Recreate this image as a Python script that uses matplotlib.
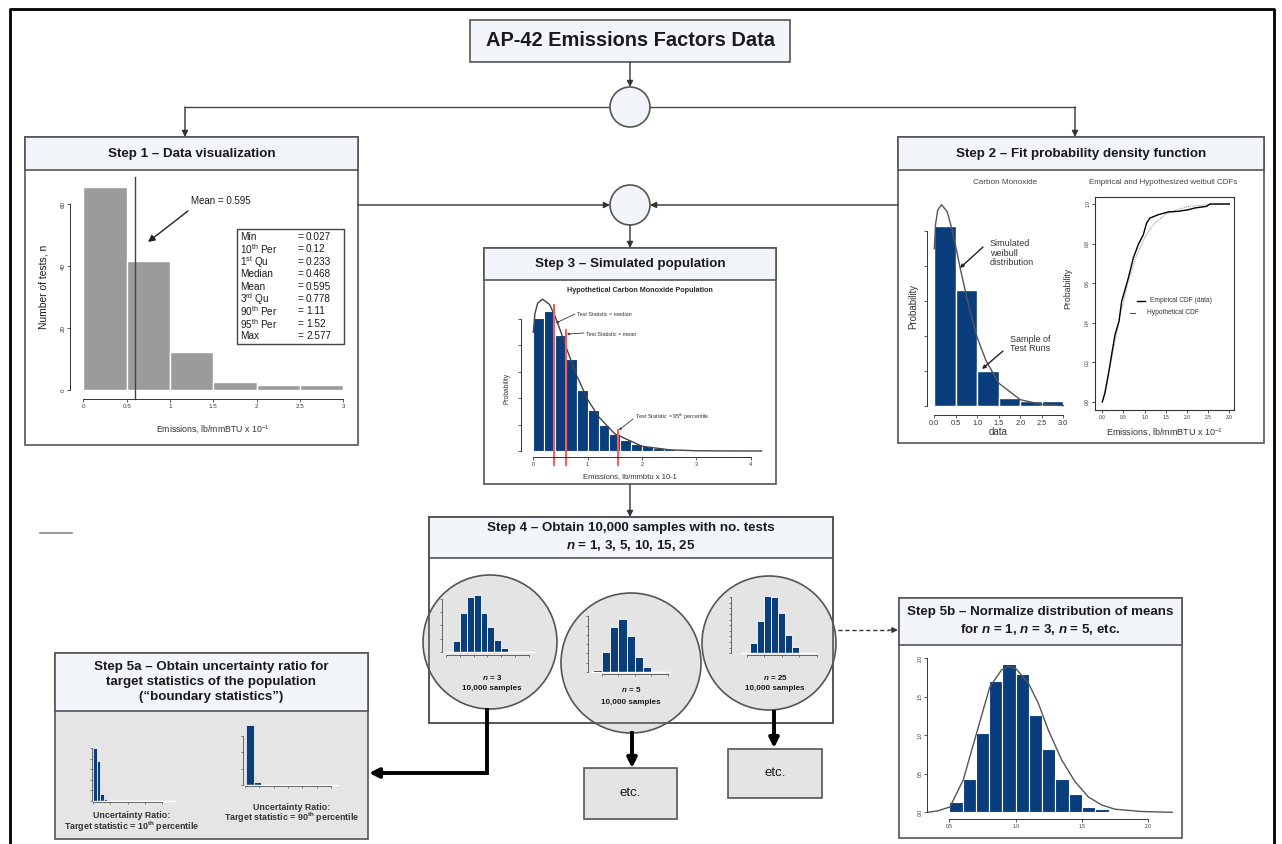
import numpy as np
import matplotlib
matplotlib.use('Agg')
import matplotlib.pyplot as plt
from matplotlib.patches import Rectangle, Circle

plt.rcParams['font.family'] = ['Liberation Sans', 'DejaVu Sans']
plt.rcParams['mathtext.fontset'] = 'custom'
plt.rcParams['mathtext.rm'] = 'Liberation Sans'
plt.rcParams['mathtext.it'] = 'Liberation Sans:italic:bold'
plt.rcParams['mathtext.bf'] = 'Liberation Sans:bold'
plt.rcParams['mathtext.default'] = 'regular'

# ---- data ----
# Step 1: histogram of test runs
s1_left = [0, 0.5, 1.0, 1.5, 2.0, 2.5]
s1_counts = [65.5, 41.5, 12.3, 2.7, 1.6, 1.6]
s1_mean = 0.595
stat_names = ['Min', '10$^{th}$ Per', '1$^{st}$ Qu', 'Median', 'Mean',
              '3$^{rd}$ Qu', '90$^{th}$ Per', '95$^{th}$ Per', 'Max']
stat_vals = ['0.027', '0.12', '0.233', '0.468', '0.595', '0.778', '1.11', '1.52', '2.577']

# Step 2: density histogram + fitted weibull, CDFs
s2_left = [0, 0.5, 1.0, 1.5, 2.0, 2.5]
s2_dens = [1.03, 0.66, 0.20, 0.046, 0.03, 0.03]
pdf_x = [0.0, 0.03, 0.08, 0.17, 0.3, 0.4, 0.5, 0.6, 0.8, 1.0, 1.2, 1.5, 2.0, 2.5, 3.0, 3.5, 4.2]
pdf_y = [0.9, 1.04, 1.12, 1.15, 1.11, 1.02, 0.91, 0.79, 0.57, 0.39, 0.26, 0.13, 0.036, 0.009, 0.002, 0.0005, 0.0]
ecdf_x = [0, 0.063, 0.142, 0.22, 0.30, 0.394, 0.457, 0.614, 0.732, 0.85, 0.969, 1.047,
          1.126, 1.323, 1.559, 1.795, 2.03, 2.19, 2.46, 2.54, 3.0]
ecdf_y = [0, 0.045, 0.138, 0.239, 0.34, 0.407, 0.508, 0.626, 0.727, 0.795, 0.845, 0.904,
          0.929, 0.946, 0.96, 0.963, 0.971, 0.98, 0.988, 1.0, 1.0]
hyp_x = [0, 0.2, 0.4, 0.6, 0.8, 1.0, 1.2, 1.5, 2.0, 2.5, 3.0]
hyp_y = [0, 0.196, 0.415, 0.598, 0.734, 0.829, 0.894, 0.95, 0.987, 0.997, 0.999]

# Step 3: simulated population
s3_dens = [1.01, 1.06, 0.88, 0.70, 0.46, 0.31, 0.20, 0.13, 0.086, 0.056, 0.035, 0.02, 0.013, 0.008, 0.005]
s3_stat_x = [0.38, 0.61, 1.55]
s3_stat_top = [1.106, 0.916, 0.157]

# Step 4: sample-mean histograms
n3_heights = [0.83, 2.9, 4.1, 4.25, 2.95, 1.9, 0.93, 0.3, 0.05]
n5_heights = [0.18, 2.18, 4.9, 5.7, 3.9, 1.56, 0.47, 0.11]
n25_heights = [0.3, 3.0, 9.8, 17.5, 17.0, 12.2, 5.5, 1.9, 0.2]

# Step 5a: uncertainty ratios
r10_heights = [5.0, 3.8, 0.65, 0.13]
r90_heights = [3.68, 0.16]

# Step 5b: normalized distribution of means
s5_left = [0.5, 0.6, 0.7, 0.8, 0.9, 1.0, 1.1, 1.2, 1.3, 1.4, 1.5, 1.6]
s5_dens = [0.14, 0.43, 1.03, 1.71, 1.93, 1.79, 1.27, 0.82, 0.43, 0.24, 0.07, 0.04]
norm_x = [0.34, 0.417, 0.505, 0.605, 0.706, 0.806, 0.894, 0.945, 1.0, 1.095, 1.17,
          1.246, 1.347, 1.447, 1.548, 1.648, 1.75, 1.95, 2.18]
norm_y = [0.0, 0.02, 0.07, 0.42, 1.03, 1.63, 1.85, 1.89, 1.87, 1.68, 1.42,
          1.07, 0.68, 0.40, 0.20, 0.095, 0.04, 0.01, 0.0]

# ---- canvas ----
W, H = 1282, 844
fig = plt.figure(figsize=(W / 100, H / 100), dpi=100)
bg = fig.add_axes([0, 0, 1, 1])
bg.set_xlim(0, W); bg.set_ylim(H, 0); bg.axis('off')

HEAD = '#f2f5f9'
EDGE = '#555555'
NAVY = '#0a3d7c'
TXT = '#1a1a1a'
HFS = 9.6  # header font size


def panel(x0, y0, x1, y1, hy, title, body='white', fs=HFS):
    bg.add_patch(Rectangle((x0, y0), x1 - x0, y1 - y0, fc=body, ec=EDGE, lw=1.2, zorder=1))
    bg.add_patch(Rectangle((x0, y0), x1 - x0, hy - y0, fc=HEAD, ec=EDGE, lw=1.2, zorder=2))
    bg.text((x0 + x1) / 2, (y0 + hy) / 2, title, ha='center', va='center', fontsize=fs,
            fontweight='bold', color=TXT, zorder=3, linespacing=1.38)


def arrow(ax, x0, y0, x1, y1, lw=1.0, ms=9, col='#333333'):
    ax.annotate('', xy=(x1, y1), xytext=(x0, y0),
                arrowprops=dict(arrowstyle='-|>', color=col, lw=lw, mutation_scale=ms,
                                shrinkA=0, shrinkB=0), zorder=6)


def inset(box, xmap, ymap):
    x0, y0, x1, y1 = box
    a = fig.add_axes([x0 / W, 1 - y1 / H, (x1 - x0) / W, (y1 - y0) / H])
    pa, va, pb, vb = xmap
    k = (vb - va) / (pb - pa)
    a.set_xlim(va + (x0 - pa) * k, va + (x1 - pa) * k)
    pa, va, pb, vb = ymap
    k = (vb - va) / (pb - pa)
    a.set_ylim(va + (y1 - pa) * k, va + (y0 - pa) * k)
    a.patch.set_visible(False)
    return a


def r_style(a, xpos, ypos, xb, yb, xt, yt, xl=None, yl=None, fs=4.5, lw=0.7, tl=2.0):
    for s in ['top', 'right']:
        a.spines[s].set_visible(False)
    a.spines['left'].set_position(('data', xpos)); a.spines['left'].set_bounds(*yb)
    a.spines['bottom'].set_position(('data', ypos)); a.spines['bottom'].set_bounds(*xb)
    for s in ['left', 'bottom']:
        a.spines[s].set_color('#333333'); a.spines[s].set_linewidth(lw)
    a.set_xticks(xt); a.set_yticks(yt)
    a.set_xticklabels(xl if xl is not None else [])
    a.set_yticklabels(yl if yl is not None else [])
    a.tick_params(length=tl, width=lw * 0.8, pad=1.5, labelsize=fs, colors='#333333')
    a.tick_params(axis='y', labelrotation=90)
    for t in a.get_yticklabels():
        t.set_va('center')


# outer frame and stray mark
bg.plot([10, 10, 1274, 1274], [844, 9, 9, 844], color='black', lw=2)
bg.plot([40, 72], [533, 533], color='#888888', lw=1.2)

# title box and first junction
bg.add_patch(Rectangle((470, 20), 320, 42, fc=HEAD, ec=EDGE, lw=1.2, zorder=2))
bg.text(630, 41, 'AP-42 Emissions Factors Data', ha='center', va='center', fontsize=14.4,
        fontweight='bold', color=TXT, zorder=3)
arrow(bg, 630, 62, 630, 87)
bg.add_patch(Circle((630, 107), 20, fc=HEAD, ec=EDGE, lw=1.2, zorder=3))
bg.plot([185, 610], [107, 107], color='#444444', lw=1)
bg.plot([650, 1075], [107, 107], color='#444444', lw=1)
arrow(bg, 185, 107, 185, 137)
arrow(bg, 1075, 107, 1075, 137)

# panels
panel(25, 137, 358, 445, 170, 'Step 1 \u2013 Data visualization')
panel(898, 137, 1264, 443, 170, 'Step 2 \u2013 Fit probability density function')
panel(484, 248, 776, 484, 280, 'Step 3 \u2013 Simulated population')
panel(429, 517, 833, 723, 558,
      'Step 4 \u2013 Obtain 10,000 samples with no. tests\n$\\mathit{n}$ = 1, 3, 5, 10, 15, 25')
panel(55, 653, 368, 839, 711,
      'Step 5a \u2013 Obtain uncertainty ratio for\ntarget statistics of the population\n(\u201cboundary statistics\u201d)',
      body='#e5e5e5')
panel(899, 598, 1182, 838, 645,
      'Step 5b \u2013 Normalize distribution of means\nfor $\\mathit{n}$ = 1, $\\mathit{n}$ = 3, $\\mathit{n}$ = 5, etc.')

# second junction
bg.add_patch(Circle((630, 205), 20, fc=HEAD, ec=EDGE, lw=1.2, zorder=3))
arrow(bg, 358, 205, 610, 205)
arrow(bg, 898, 205, 650, 205)
arrow(bg, 630, 225, 630, 248)
arrow(bg, 630, 484, 630, 517)

# step 4 circles (box border redrawn on top)
for cx, cy, r in [(490, 642, 67), (631, 663, 70), (769, 643, 67)]:
    bg.add_patch(Circle((cx, cy), r, fc='#e4e4e4', ec=EDGE, lw=1.2, zorder=3))
bg.add_patch(Rectangle((429, 517), 404, 206, fc='none', ec=EDGE, lw=1.2, zorder=4))

# thick arrows and etc boxes
bg.plot([487, 487, 380], [710, 773, 773], color='black', lw=2.8, zorder=5, solid_joinstyle='miter')
arrow(bg, 385, 773, 369, 773, lw=2.8, ms=14, col='black')
bg.plot([632, 632], [733, 755], color='black', lw=2.8, zorder=5)
arrow(bg, 632, 752, 632, 768, lw=2.8, ms=14, col='black')
bg.plot([774, 774], [712, 735], color='black', lw=2.8, zorder=5)
arrow(bg, 774, 732, 774, 748, lw=2.8, ms=14, col='black')
for x0, y0, x1, y1 in [(584, 768, 677, 819), (728, 749, 822, 798)]:
    bg.add_patch(Rectangle((x0, y0), x1 - x0, y1 - y0, fc='#e4e4e4', ec=EDGE, lw=1.2, zorder=3))
    bg.text((x0 + x1) / 2, (y0 + y1) / 2, 'etc.', ha='center', va='center', fontsize=9.5,
            color=TXT, zorder=4)
bg.plot([838, 889], [630, 630], color='#333333', lw=1, ls=(0, (3, 2)))
arrow(bg, 889, 630, 898, 630, ms=8)

# ---- Step 1 chart ----
a1 = inset((55, 168, 355, 405), (83.3, 0, 343.3, 3), (390, 0, 204, 60))
a1.bar(s1_left, s1_counts, width=0.5, align='edge', color='#9b9b9b', ec='white', lw=1)
a1.plot([s1_mean, s1_mean], [-2.9, 68.7], color='#444444', lw=1, clip_on=False)
r_style(a1, -0.15, -2.9, (0, 3), (0, 60), [0, 0.5, 1, 1.5, 2, 2.5, 3], [0, 20, 40, 60],
        xl=['0', '0.5', '1', '1.5', '2', '2.5', '3'], yl=['0', '20', '40', '60'], fs=4.5)

# ---- Step 2 charts ----
a2 = inset((918, 190, 1070, 420), (934.3, 0, 1063.3, 3), (406, 0, 231, 1.0))
a2.bar(s2_left, s2_dens, width=0.5, align='edge', color=NAVY, ec='white', lw=1)
px2 = [x for x in pdf_x if x <= 3.0]
a2.plot(px2, pdf_y[:len(px2)], color='#555555', lw=1, clip_on=False)
r_style(a2, -0.163, -0.051, (0, 3), (0, 1), np.arange(0, 3.01, 0.5), np.arange(0, 1.01, 0.2),
        xl=['0.0', '0.5', '1.0', '1.5', '2.0', '2.5', '3.0'], fs=5.3)

a3 = inset((1095, 197, 1234, 410), (1102.3, 0, 1229.3, 3), (402, 0, 204, 1))
a3.plot(hyp_x, hyp_y, color='#888888', lw=0.7, ls=(0, (1, 1)))
a3.plot(ecdf_x, ecdf_y, color='black', lw=1)
for s in a3.spines.values():
    s.set_color('#333333'); s.set_linewidth(0.8)
a3.set_xticks(np.arange(0, 3.01, 0.5))
a3.set_xticklabels(['0.0', '0.5', '1.0', '1.5', '2.0', '2.5', '3.0'])
a3.set_yticks(np.arange(0, 1.01, 0.2))
a3.set_yticklabels(['0.0', '0.2', '0.4', '0.6', '0.8', '1.0'])
a3.tick_params(length=2, width=0.6, pad=1.5, labelsize=3.5, colors='#333333')
a3.tick_params(axis='y', labelrotation=90)
for t in a3.get_yticklabels():
    t.set_va('center')

# ---- Step 3 chart ----
a4 = inset((512, 296, 772, 470), (533.3, 0, 750.7, 4), (451, 0, 319, 1.0))
a4.bar(np.arange(len(s3_dens)) * 0.2, s3_dens, width=0.2, align='edge', color=NAVY, ec='white', lw=0.8)
a4.plot(pdf_x, pdf_y, color='#444444', lw=1)
for x, t in zip(s3_stat_x, s3_stat_top):
    a4.plot([x, x], [-0.109, t], color='#ff5a5a', lw=1.5, clip_on=False)
r_style(a4, -0.227, -0.045, (0, 4), (0, 1), [0, 1, 2, 3, 4], np.arange(0, 1.01, 0.2),
        xl=['0', '1', '2', '3', '4'], fs=4)

# ---- Step 4 mini histograms ----
m3 = inset((436, 594, 540, 662), (446, 0, 459.8, 0.5), (652, 0, 638.67, 1))
m3.plot([0, 3.2], [0, 0], color='white', lw=1)
m3.bar(0.25 + 0.25 * np.arange(len(n3_heights)), n3_heights, width=0.25, align='edge',
       color=NAVY, ec='white', lw=0.6)
r_style(m3, -0.14, -0.22, (0, 3), (0, 4), np.arange(0, 3.01, 0.5), [0, 1, 2, 3, 4],
        lw=0.5, tl=1.2)

m5 = inset((582, 608, 676, 682), (601.7, 0.5, 618.3, 1.0), (671.7, 0, 662.5, 1))
m5.plot([0.2, 2.55], [0, 0], color='white', lw=1)
m5.bar(0.25 + 0.25 * np.arange(len(n5_heights)), n5_heights, width=0.25, align='edge',
       color=NAVY, ec='white', lw=0.6)
r_style(m5, 0.1, -0.25, (0.5, 2.5), (0, 6), [0.5, 1.0, 1.5, 2.0, 2.5], np.arange(0, 6.1, 1),
        lw=0.5, tl=1.2)

m25 = inset((726, 590, 822, 660), (746.7, 0.8, 764.2, 0.9), (653.3, 0, 650, 1))
m25.plot([0.77, 1.2], [0, 0], color='white', lw=1)
m25.bar(0.78 + 0.04 * np.arange(len(n25_heights)), n25_heights, width=0.04, align='edge',
        color=NAVY, ec='white', lw=0.6)
r_style(m25, 0.71, -0.5, (0.8, 1.2), (0, 17), [0.8, 0.9, 1.0, 1.1, 1.2], np.arange(0, 17.1, 1.7),
        lw=0.5, tl=1.2)

# ---- Step 5a mini histograms ----
r10 = inset((84, 738, 182, 808), (93.3, 0, 110.4, 1), (800.7, 0, 790.23, 1))
r10.plot([0, 4.8], [0, 0], color='white', lw=1)
r10.bar([0, 0.2, 0.4, 0.6], r10_heights, width=0.2, align='edge', color=NAVY, ec='white', lw=0.5)
r_style(r10, -0.076, -0.1, (0, 4), (0, 5), [0, 1, 2, 3, 4], [0, 1, 2, 3, 4, 5], lw=0.5, tl=1.2)

r90 = inset((236, 716, 345, 792), (245, 0, 259.33, 1), (785, 0, 768.7, 1))
r90.plot([0, 6.5], [0, 0], color='white', lw=1)
r90.bar([0.05, 0.6], r90_heights, width=0.55, align='edge', color=NAVY, ec='white', lw=0.5)
r_style(r90, -0.12, -0.04, (0, 6), (0, 3), [0, 1, 2, 3, 4, 5, 6], [0, 1, 2, 3], lw=0.5, tl=1.2)

# ---- Step 5b chart ----
b5 = inset((915, 650, 1178, 832), (949.3, 0.5, 1148.3, 2.0), (812.3, 0, 658.3, 2.0))
b5.bar(s5_left, s5_dens, width=0.1, align='edge', color=NAVY, ec='white', lw=0.8)
b5.plot(norm_x, norm_y, color='#555555', lw=1)
r_style(b5, 0.334, -0.091, (0.5, 2.0), (0, 2), [0.5, 1.0, 1.5, 2.0], [0, 0.5, 1.0, 1.5, 2.0],
        xl=['0.5', '1.0', '1.5', '2.0'], yl=['0.0', '0.5', '1.0', '1.5', '2.0'], fs=3.5)

# ---- overlay for labels and annotations ----
top = fig.add_axes([0, 0, 1, 1])
top.set_xlim(0, W); top.set_ylim(H, 0); top.axis('off')

# step 1 texts
top.text(44, 287, 'Number of tests, n', rotation=90, ha='center', va='center', fontsize=7.4, color=TXT)
top.text(213, 430, 'Emissions, lb/mmBTU x 10$^{-1}$', ha='center', va='center', fontsize=6.3, color='#333333')
top.text(191, 201, 'Mean = 0.595', ha='left', va='center', fontsize=7, color=TXT)
arrow(top, 188, 211, 148, 242, lw=1, ms=10, col='#222222')
top.add_patch(Rectangle((237, 229), 107, 115, fc='white', ec='#444444', lw=1))
for i, (nm, v) in enumerate(zip(stat_names, stat_vals)):
    y = 237 + i * 12.4
    top.text(240, y, nm, ha='left', va='center', fontsize=7.2, color=TXT)
    top.text(300, y, '=', ha='center', va='center', fontsize=7.2, color=TXT)
    top.text(306, y, v, ha='left', va='center', fontsize=7.2, color=TXT)

# step 2 texts
top.text(1005, 183, 'Carbon Monoxide', ha='center', va='center', fontsize=5.9, color='#444444')
top.text(1163, 183, 'Empirical and Hypothesized weibull CDFs', ha='center', va='center', fontsize=5.8,
         color='#444444')
top.text(990, 253, 'Simulated\nweibull\ndistribution', ha='left', va='center', fontsize=6.5,
         color='#333333', linespacing=1.05)
arrow(top, 983, 247, 960, 268, lw=1, ms=5, col='#222222')
top.text(1030, 344, 'Sample of\nTest Runs', ha='center', va='center', fontsize=6.5, color='#333333',
         linespacing=1.05)
arrow(top, 1003, 351, 982, 369, lw=1, ms=5, col='#222222')
top.text(998, 432, 'data', ha='center', va='center', fontsize=7, color='#333333')
top.text(913, 306, 'Probability', rotation=90, ha='center', va='center', fontsize=7, color='#333333')
top.text(1068, 288, 'Probability', rotation=90, ha='center', va='center', fontsize=6.3, color='#333333')
top.text(1165, 433, 'Emissions, lb/mmBTU x 10$^{-1}$', ha='center', va='center', fontsize=6.5, color='#333333')
top.plot([1137, 1145], [301, 301], color='black', lw=1)
top.text(1150, 301, 'Empirical CDF (data)', ha='left', va='center', fontsize=4.8, color='#333333')
top.plot([1130, 1135], [313, 313], color='#555555', lw=0.8)
top.text(1147, 313, 'Hypothetical CDF', ha='left', va='center', fontsize=4.8, color='#333333')

# step 3 texts
top.text(640, 290, 'Hypothetical Carbon Monoxide Population', ha='center', va='center', fontsize=5.2,
         fontweight='bold', color='#2a2a2a')
top.text(577, 314, 'Test Statistic = median', ha='left', va='center', fontsize=4, color='#333333')
arrow(top, 575, 314, 556, 323, lw=0.6, ms=3, col='#333333')
top.text(586, 334, 'Test Statistic = mean', ha='left', va='center', fontsize=4, color='#333333')
arrow(top, 584, 333, 567, 334, lw=0.6, ms=3, col='#333333')
top.text(635, 417, 'Test Statistic = 95$^{th}$ percentile', ha='left', va='center', fontsize=4,
         color='#333333')
arrow(top, 633, 419, 619, 430, lw=0.6, ms=3, col='#333333')
top.text(630, 477, 'Emissions, lb/mmbtu x 10-1', ha='center', va='center', fontsize=5.5, color='#333333')
top.text(507, 388, 'Probability', rotation=90, ha='center', va='center', fontsize=4.8, color='#333333')

# step 4 circle captions
for cx, y1, y2, lab in [(492, 677, 688, '$\\mathit{n}$ = 3'), (631, 690, 702, '$\\mathit{n}$ = 5'),
                        (775, 678, 688, '$\\mathit{n}$ = 25')]:
    top.text(cx, y1, lab, ha='center', va='center', fontsize=5.8, fontweight='bold', color=TXT)
    top.text(cx, y2, '10,000 samples', ha='center', va='center', fontsize=5.8, fontweight='bold', color=TXT)

# step 5a captions
top.text(132, 816, 'Uncertainty Ratio:', ha='center', va='center', fontsize=6.4, fontweight='bold', color='#333333')
top.text(132, 827, 'Target statistic = 10$^{th}$ percentile', ha='center', va='center', fontsize=6.4,
         fontweight='bold', color='#333333')
top.text(292, 807, 'Uncertainty Ratio:', ha='center', va='center', fontsize=6.4, fontweight='bold', color='#333333')
top.text(292, 818, 'Target statistic = 90$^{th}$ percentile', ha='center', va='center', fontsize=6.4,
         fontweight='bold', color='#333333')

fig.savefig('out.png', dpi=100)
